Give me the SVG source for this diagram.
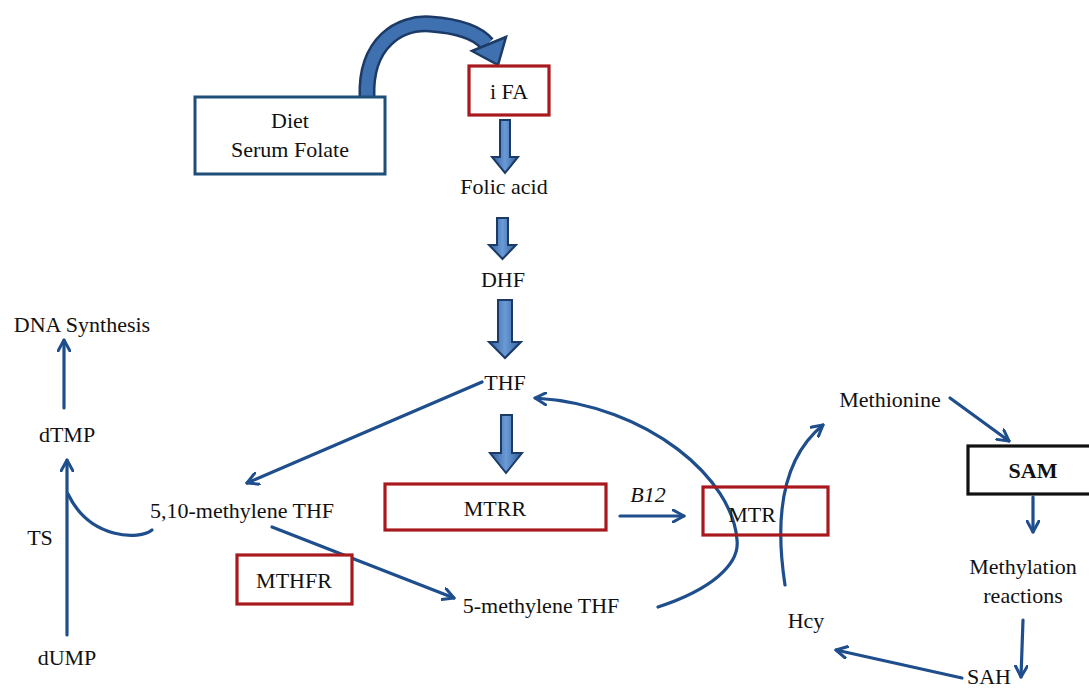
<svg xmlns="http://www.w3.org/2000/svg" width="1089" height="689" viewBox="0 0 1089 689">
<defs>
<style>
text{font-family:"Liberation Serif","Times New Roman",serif;font-size:22px;fill:#111;text-anchor:middle}
.ln{fill:none;stroke:#1F4E8C;stroke-width:3.2;stroke-linecap:round}
.blk{fill:url(#g);stroke:#1B3A66;stroke-width:2;stroke-linejoin:miter}
.red{fill:#fff;stroke:#A8191E;stroke-width:3.2}
</style>
<linearGradient id="g" x1="0" y1="0" x2="1" y2="0">
<stop offset="0" stop-color="#2E5D9C"/>
<stop offset="0.5" stop-color="#6B9BD6"/>
<stop offset="1" stop-color="#2E5D9C"/>
</linearGradient>
<marker id="ah" viewBox="0 0 14 14" refX="12" refY="7" markerWidth="14" markerHeight="14" markerUnits="userSpaceOnUse" orient="auto">
<path d="M1,1 L12,7 L1,13" fill="none" stroke="#1F4E8C" stroke-width="3" stroke-linecap="round" stroke-linejoin="round"/>
</marker>
</defs>

<g id="connectors">
<path d="M367,97 C365,42 400,22 430,24 C458,26 478,33 487,44" fill="none" stroke="#1B3A66" stroke-width="17"/>
<path d="M367,97 C365,42 400,22 430,24 C458,26 478,33 487,44" fill="none" stroke="#3F70B0" stroke-width="12"/>
<polygon points="472,51 506,37 498,65" fill="#3F70B0" stroke="#1B3A66" stroke-width="2.5" stroke-linejoin="miter"/>
<polygon class="blk" points="500,120 510,120 510,157 518,157 505,173 492,157 500,157"/>
<polygon class="blk" points="497,218 508,218 508,245 516,245 502.5,259 489,245 497,245"/>
<polygon class="blk" points="498,300 512,300 512,342 521,342 505,358 489,342 498,342"/>
<polygon class="blk" points="501,415 512,415 512,453 522,453 506,473 490,453 501,453"/>
<path class="ln" marker-end="url(#ah)" d="M482,382 L247,483"/>
<path class="ln" marker-end="url(#ah)" d="M272,527 L454,598"/>
<path class="ln" d="M152,530 C140,540 90,540 68,494"/>
<path class="ln" marker-end="url(#ah)" d="M67,635 L67,460"/>
<path class="ln" marker-end="url(#ah)" d="M64,408 L64,340"/>
<path class="ln" marker-end="url(#ah)" d="M620,516 L684,516"/>
<path class="ln" marker-end="url(#ah)" d="M658,607 C710,590 740,565 737,540 C733,480 650,405 535,398"/>
<path class="ln" marker-end="url(#ah)" d="M785,585 C775,520 780,460 823,425"/>
<path class="ln" marker-end="url(#ah)" d="M950,398 L1009,441"/>
<path class="ln" marker-end="url(#ah)" d="M1033,497 L1033,532"/>
<path class="ln" marker-end="url(#ah)" d="M1023,620 L1021,677"/>
<path class="ln" marker-end="url(#ah)" d="M962,678 L836,650"/>
</g>

<g id="diet">
<rect x="195" y="97" width="190" height="77" fill="#fff" stroke="#1F4E79" stroke-width="3"/>
<text x="290" y="128">Diet</text>
<text x="290" y="157">Serum Folate</text>
</g>
<g id="ifa">
<rect class="red" x="469" y="66" width="80" height="49"/>
<text x="509" y="99">i FA</text>
</g>
<g id="folic"><text x="504" y="194">Folic acid</text></g>
<g id="dhf"><text x="503" y="287">DHF</text></g>
<g id="thf"><text x="505" y="390">THF</text></g>
<g id="mtrr">
<rect class="red" x="385" y="484" width="221" height="46"/>
<text x="495" y="516">MTRR</text>
</g>
<g id="b12"><text x="648" y="502" font-style="italic">B12</text></g>
<g id="mtr">
<rect x="703" y="487" width="125" height="48" fill="none" stroke="#A8191E" stroke-width="3.2"/>
<text x="752" y="522">MTR</text>
</g>
<g id="mthf510"><text x="242" y="518">5,10-methylene THF</text></g>
<g id="mthfr">
<rect class="red" x="237" y="555" width="115" height="49"/>
<text x="294" y="588">MTHFR</text>
</g>
<g id="mthf5"><text x="541" y="613">5-methylene THF</text></g>
<g id="dna"><text x="82" y="332">DNA Synthesis</text></g>
<g id="dtmp"><text x="67" y="442">dTMP</text></g>
<g id="ts"><text x="40" y="545">TS</text></g>
<g id="dump"><text x="67" y="665">dUMP</text></g>
<g id="methionine"><text x="890" y="407">Methionine</text></g>
<g id="sam">
<rect x="968" y="446" width="124" height="48" fill="#fff" stroke="#111" stroke-width="3.2"/>
<text x="1033" y="478" font-weight="bold">SAM</text>
</g>
<g id="methylation">
<text x="1023" y="574">Methylation</text>
<text x="1023" y="603">reactions</text>
</g>
<g id="sah"><text x="989" y="684">SAH</text></g>
<g id="hcy"><text x="806" y="628">Hcy</text></g>
</svg>
